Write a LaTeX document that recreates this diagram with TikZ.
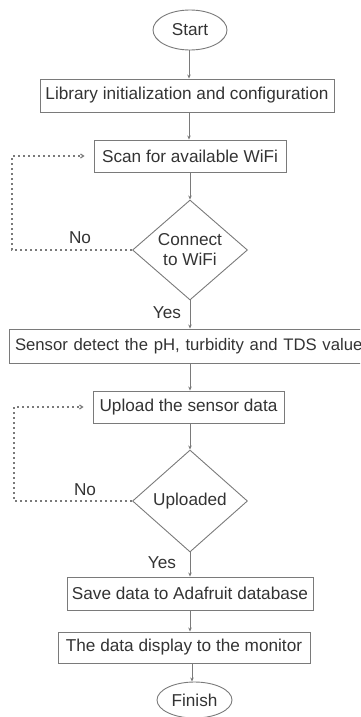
\documentclass[tikz,border=0pt]{standalone}
\usepackage{fontspec}
\setmainfont{Liberation Sans}
\usepackage{tikz}
\usetikzlibrary{shapes.geometric,arrows.meta}

\definecolor{linegray}{HTML}{7A7A7A}
\definecolor{textgray}{HTML}{333333}

\tikzset{
  box/.style={draw=linegray, line width=0.9pt, rectangle, inner sep=0pt, text=textgray},
  term/.style={draw=linegray, line width=0.9pt, ellipse, inner sep=0pt, text=textgray},
  decide/.style={draw=linegray, line width=0.9pt, diamond, inner sep=0pt, text=textgray, align=center},
  arr/.style={draw=linegray, line width=0.9pt, -{Stealth[length=4pt,width=3.5pt]}},
  backloop/.style={draw=linegray, line width=1.2pt, dash pattern=on 1.6pt off 3.4pt,
    -{Straight Barb[length=3pt,width=4pt]}, shorten >=9pt},
  lbl/.style={text=textgray, inner sep=0pt}
}

\begin{document}
\begin{tikzpicture}[x=1pt, y=-1pt, font=\fontsize{17.2}{20}\selectfont]
        % Figure: WiFi / sensor flow
        \useasboundingbox (0,0) rectangle (360,717);
        \clip (0,0) rectangle (360,717);
        \node[term, minimum width=74, minimum height=40] (start) at (190,30) {Start};
        \node[box, minimum width=294, minimum height=33] (lib) at (187,95.5) {Library initialization and configuration};
        \node[box, minimum width=192, minimum height=32] (scan) at (190,156) {Scan for available WiFi};
        \node[decide, minimum width=115, minimum height=100] (wifi) at (190,250) {Connect\\to WiFi};
        \node[box, minimum width=364, minimum height=34, text width=352, align=left] (sense) at (191,346)
          {\fontsize{16.7}{20}\selectfont Sensor detect the pH, turbidity and TDS value};
        \node[box, minimum width=191, minimum height=32] (upload) at (188.5,407) {Upload the sensor data};
        \node[decide, minimum width=115, minimum height=102] (done) at (190,501) {Uploaded};
        \node[box, minimum width=246, minimum height=33] (save) at (190,593.5) {Save data to Adafruit database};
        \node[box, minimum width=252, minimum height=31] (disp) at (184,647.5) {The data display to the monitor};
        \node[term, minimum width=75, minimum height=36] (finish) at (194.5,700) {Finish};
        \node[lbl] (no1) at (80,238) {No};
        \node[lbl] (yes1) at (167,313) {Yes};
        \node[lbl] (no2) at (85,490) {No};
        \node[lbl] (yes2) at (162,563) {Yes};
        \draw[arr] (start.south -| 189,0) -- (lib.north -| 189,0);
        \draw[arr] (lib.south -| 189,0) -- (scan.north -| 189,0);
        \draw[arr] (scan.south -| wifi) -- (wifi.north);
        \draw[arr] (wifi.south) -- (sense.north -| wifi);
        \draw[arr] (sense.south -| wifi) -- (upload.north -| wifi);
        \draw[arr] (upload.south -| done) -- (done.north);
        \draw[arr] (done.south) -- (save.north -| done);
        \draw[arr] (save.south -| done) -- (disp.north -| done);
        \draw[arr] (disp.south -| 192,0) -- (finish.north -| 192,0);
        \draw[backloop] (wifi.west) -- ++(-120,0) |- (scan.west);
        \draw[backloop] (done.west) -- ++(-118,0) |- (upload.west);
    \end{tikzpicture}
\end{document}
